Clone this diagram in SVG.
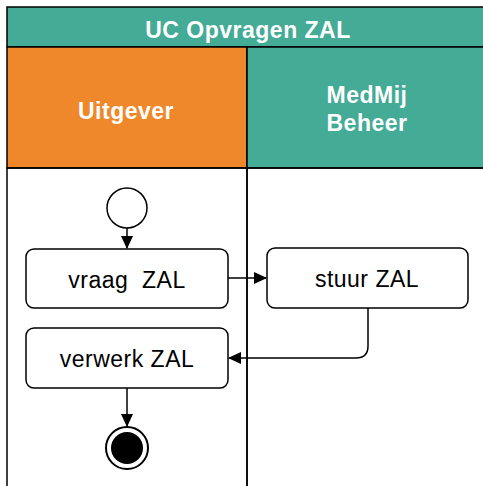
<svg xmlns="http://www.w3.org/2000/svg" width="483" height="486" viewBox="0 0 483 486">
<style>
.hdr{font-family:"Liberation Sans",Arial,sans-serif;font-weight:bold;font-size:23px;letter-spacing:0.5px;fill:#fff;text-anchor:middle}
.lbl{font-family:"Liberation Sans",Arial,sans-serif;font-size:23px;letter-spacing:0.5px;fill:#000;text-anchor:middle}
.box{fill:#fff;stroke:#000;stroke-width:1.5}
.ln{fill:none;stroke:#000;stroke-width:1.5}
</style>
<defs>
<marker id="ah" markerWidth="13" markerHeight="12" refX="12" refY="6" orient="auto" markerUnits="userSpaceOnUse">
<path d="M0,0 L13,6 L0,12 Z" fill="#000"/>
</marker>
</defs>
<rect width="483" height="486" fill="#fff"/>
<g id="pool">
<rect x="7" y="7" width="482" height="40" fill="#44ab96" stroke="#000" stroke-width="1.5"/>
<text class="hdr" x="248" y="38">UC Opvragen ZAL</text>
</g>
<g id="lane-uitgever">
<rect x="7" y="47" width="240" height="121" fill="#ee882b" stroke="#000" stroke-width="1.5"/>
<rect x="7" y="168" width="240" height="330" fill="none" stroke="#000" stroke-width="1.5"/>
<text class="hdr" x="126" y="119">Uitgever</text>
</g>
<g id="lane-medmij">
<rect x="247" y="47" width="242" height="121" fill="#44ab96" stroke="#000" stroke-width="1.5"/>
<rect x="247" y="168" width="242" height="330" fill="none" stroke="#000" stroke-width="1.5"/>
<text class="hdr" x="367" y="103">MedMij</text>
<text class="hdr" x="367" y="131">Beheer</text>
</g>
<g id="start">
<circle cx="127" cy="208" r="20" fill="#fff" stroke="#000" stroke-width="1.5"/>
</g>
<g id="vraag">
<rect class="box" x="26" y="249" width="202" height="59" rx="8"/>
<text class="lbl" x="127" y="288" xml:space="preserve">vraag  ZAL</text>
</g>
<g id="stuur">
<rect class="box" x="267" y="248" width="201" height="60" rx="8"/>
<text class="lbl" x="367" y="287">stuur ZAL</text>
</g>
<g id="verwerk">
<rect class="box" x="26" y="328" width="202" height="60" rx="8"/>
<text class="lbl" x="127" y="367">verwerk ZAL</text>
</g>
<g id="end">
<circle cx="127" cy="448" r="21" fill="#fff" stroke="#000" stroke-width="2"/>
<circle cx="127" cy="448" r="16" fill="#000"/>
</g>
<g id="connectors">
<path class="ln" d="M127,228 L127,248" marker-end="url(#ah)"/>
<path class="ln" d="M228,278 L266,278" marker-end="url(#ah)"/>
<path class="ln" d="M368,308 L368,346 Q368,358 356,358 L229,358" marker-end="url(#ah)"/>
<path class="ln" d="M127,388 L127,426" marker-end="url(#ah)"/>
</g>
</svg>
